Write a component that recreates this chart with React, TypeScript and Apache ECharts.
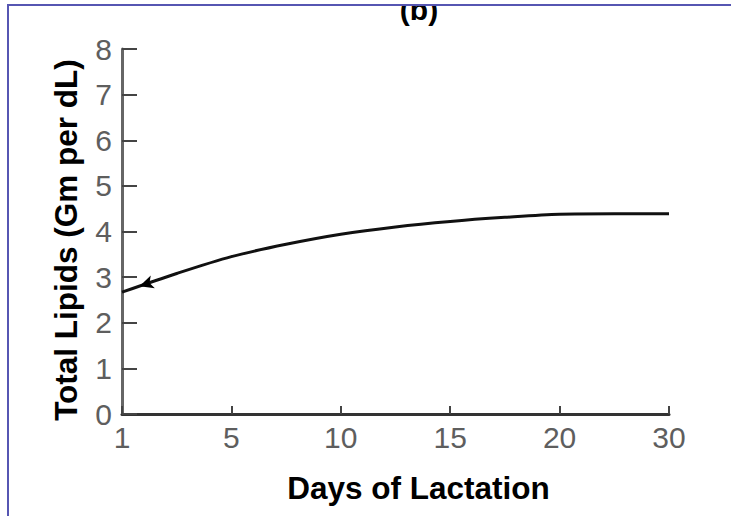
import React, { useEffect, useRef } from "react";
import * as echarts from "echarts";

// Tick labels of the (evenly spaced) day axis
const dayLabels = ["1", "5", "10", "15", "20", "30"];
// Positions along the day axis (0 = day 1 … 5 = day 30) where the curve was read
const positions = [0, 0.5, 1, 1.5, 2, 2.5, 3, 3.5, 4, 4.5, 5];
// Total lipids (Gm per dL) read at those positions
const lipids = [2.67, 3.08, 3.45, 3.72, 3.94, 4.1, 4.22, 4.31, 4.38, 4.39, 4.39];
// y-axis range
const yMin = 0;
const yMax = 8;
// arrowhead annotation near the start of the curve: [axis position, value]
const arrowAt = [0.16, 2.8];

const FONT = "'Liberation Sans', Arial, Helvetica, sans-serif";

export default function App() {
  const ref = useRef<HTMLDivElement>(null);

  useEffect(() => {
    if (!ref.current) return;
    const chart = echarts.init(ref.current, undefined, { renderer: "svg" });
    chart.setOption({
      animation: false,
      backgroundColor: "#ffffff",
      grid: { left: 122, right: 62, top: 49, bottom: 102, containLabel: false },
      xAxis: {
        type: "value",
        min: 0,
        max: dayLabels.length - 1,
        interval: 1,
        name: "Days of Lactation",
        nameLocation: "middle",
        nameGap: 58,
        nameTextStyle: {
          fontFamily: FONT,
          fontSize: 31.5,
          fontWeight: "bold",
          color: "#000",
          padding: [0, 0, 0, 46],
        },
        axisLine: { show: true, lineStyle: { color: "#333", width: 3 } },
        axisTick: { show: true, inside: true, length: 8, lineStyle: { color: "#444", width: 2 } },
        axisLabel: {
          fontFamily: FONT,
          fontSize: 30,
          color: "#5e5e5e",
          margin: 8,
          formatter: (v: number) => dayLabels[Math.round(v)] ?? "",
        },
        splitLine: { show: false },
      },
      yAxis: {
        type: "value",
        min: yMin,
        max: yMax,
        interval: 1,
        name: "Total Lipids (Gm per dL)",
        nameLocation: "middle",
        nameGap: 40,
        nameTextStyle: {
          fontFamily: FONT,
          fontSize: 31.5,
          fontWeight: "bold",
          color: "#000",
          padding: [0, 17, 0, 0],
        },
        axisLine: { show: true, lineStyle: { color: "#666", width: 3 } },
        axisTick: { show: true, inside: true, length: 15, lineStyle: { color: "#444", width: 2 } },
        axisLabel: { fontFamily: FONT, fontSize: 30, color: "#5e5e5e", margin: 10 },
        splitLine: { show: false },
      },
      series: [
        {
          type: "line",
          data: positions.map((p, i) => [p, lipids[i]]),
          smooth: 0.3,
          showSymbol: false,
          symbol: "none",
          lineStyle: { color: "#111", width: 3 },
          markPoint: {
            symbol: "arrow",
            symbolSize: [10, 14],
            symbolRotate: 108,
            itemStyle: { color: "#000" },
            label: { show: false },
            data: [{ coord: arrowAt }],
          },
        },
      ],
      graphic: [
        {
          type: "text",
          x: 419,
          y: 9,
          z: 10,
          style: {
            text: "(b)",
            fontFamily: FONT,
            fontSize: 30,
            fontWeight: "bold",
            fill: "#000",
            align: "center",
            verticalAlign: "middle",
          },
        },
        {
          type: "rect",
          z: 20,
          shape: { x: 0, y: 0, width: 731, height: 4 },
          style: { fill: "#ffffff" },
        },
        {
          type: "line",
          z: 30,
          shape: { x1: 8, y1: 5, x2: 731, y2: 5 },
          style: { stroke: "#5656b2", lineWidth: 2 },
        },
        {
          type: "line",
          z: 30,
          shape: { x1: 8, y1: 4, x2: 8, y2: 516 },
          style: { stroke: "#5656b2", lineWidth: 2 },
        },
      ],
    });
    return () => chart.dispose();
  }, []);

  return (
    <div
      ref={ref}
      style={{ position: "fixed", left: 0, top: 0, width: 731, height: 516, background: "#fff" }}
    />
  );
}
